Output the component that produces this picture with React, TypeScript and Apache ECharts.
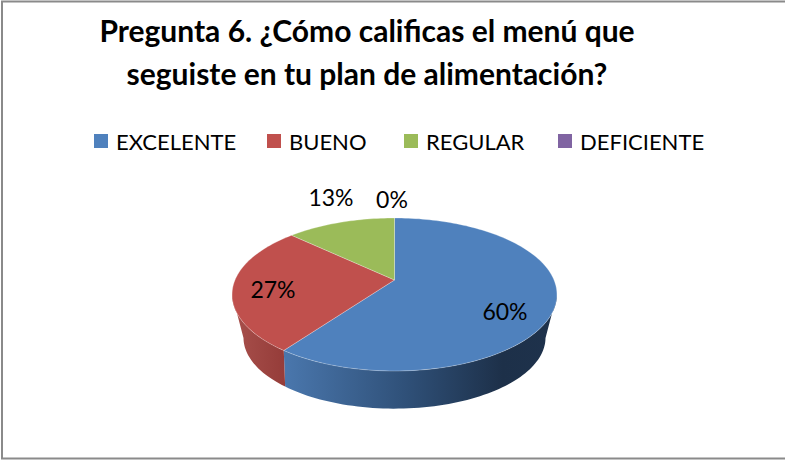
import React, { useEffect, useRef } from "react";
import * as echarts from "echarts";

const categories = ["EXCELENTE", "BUENO", "REGULAR", "DEFICIENTE"];
const percentages = [60, 27, 13, 0];
const topColors = ["#4f81bd", "#c0504d", "#9bbb59", "#8064a2"];
const wallStops = [
  [[0, "#4a77ad"], [0.45, "#2f5078"], [0.8, "#1d3049"], [1, "#1e324c"]],
  [[0, "#a8504c"], [1, "#953c39"]],
  [[0, "#7d9648"], [1, "#7d9648"]],
  [[0, "#66508a"], [1, "#66508a"]],
];
const labelAnchors = [[505, 311], [273, 289], [331, 197], [392, 199]];
const legendLefts = [89, 262, 399, 553];
const titleText = "Pregunta 6. ¿Cómo calificas el menú que\nseguiste en tu plan de alimentación?";

const FONT = "Lato";
const CX = 394.5;
const TOP_RIM = { cy: 280, rx: 159.5, ry: 73.75, k: -0.1895 };
const BOTTOM_RIM = { cy: 318.5, rx: 145.4, ry: 65.8, k: -0.27 };

function project(deg: number, rim: typeof TOP_RIM): number[] {
  const t = (deg * Math.PI) / 180;
  const X = Math.sin(t);
  const Y = -Math.cos(t);
  const w = 1 + rim.k * Y;
  return [CX + (rim.rx * X) / w, rim.cy + (rim.ry * Y) / w];
}

function arc(a: number, b: number, rim: typeof TOP_RIM): number[][] {
  const pts: number[][] = [];
  const n = Math.max(2, Math.ceil((b - a) / 1.5));
  for (let i = 0; i <= n; i++) pts.push(project(a + ((b - a) * i) / n, rim));
  return pts;
}

const total = percentages.reduce((s, v) => s + v, 0);

function renderSlice(index: number) {
  return () => {
    const value = percentages[index];
    const label = {
      type: "text",
      z2: 30,
      style: {
        x: labelAnchors[index][0],
        y: labelAnchors[index][1],
        text: value + "%",
        fill: "#000",
        font: "23px " + FONT,
        textAlign: "center",
        textVerticalAlign: "middle",
      },
    };
    if (value === 0) return { type: "group", children: [label] };
    const before = percentages.slice(0, index).reduce((s, v) => s + v, 0);
    const a = (before / total) * 360;
    const b = ((before + value) / total) * 360;
    const children: any[] = [];
    const wa = Math.max(a, 101);
    const wb = Math.min(b, 259);
    if (wb > wa) {
      const ba = Math.max(a, 106);
      const bb = Math.min(b, 254);
      children.push({
        type: "polygon",
        z2: 1,
        shape: { points: [...arc(wa, wb, TOP_RIM), ...arc(ba, bb, BOTTOM_RIM).reverse()] },
        style: {
          fill: {
            type: "linear",
            x: 0,
            y: 0,
            x2: 1,
            y2: 0,
            colorStops: wallStops[index].map(([offset, color]) => ({ offset, color })),
          },
        },
      });
    }
    children.push({
      type: "polygon",
      z2: 10,
      shape: { points: [[CX, TOP_RIM.cy], ...arc(a, b, TOP_RIM)] },
      style: { fill: topColors[index], stroke: "rgba(255,255,255,0.45)", lineWidth: 0.6 },
    });
    children.push(label);
    return { type: "group", children };
  };
}

export default function App() {
  const ref = useRef<HTMLDivElement>(null);
  useEffect(() => {
    document.body.style.margin = "0";
    const chart = echarts.init(ref.current!, null, { renderer: "svg" });
    chart.setOption({
      animation: false,
      backgroundColor: "#fff",
      title: {
        text: titleText,
        left: 362,
        top: 3,
        textAlign: "center",
        textStyle: { fontFamily: FONT, fontWeight: "bold", fontSize: 30, lineHeight: 43, color: "#000" },
      },
      legend: categories.map((name, i) => ({
        data: [name],
        left: legendLefts[i],
        top: 125,
        icon: "rect",
        itemWidth: 14,
        itemHeight: 14,
        textStyle: { fontFamily: FONT, fontSize: 22, color: "#000", padding: [0, 0, 0, 3] },
      })),
      graphic: [
        {
          type: "rect",
          shape: { x: 2, y: 1.5, width: 800, height: 457 },
          style: { fill: "none", stroke: "#8a8a8a", lineWidth: 2 },
          silent: true,
          z: -1,
        },
      ],
      series: categories.map((name, i) => ({
        type: "custom",
        name,
        coordinateSystem: "none",
        color: topColors[i],
        data: [percentages[i]],
        renderItem: renderSlice(i),
      })),
    });
    return () => chart.dispose();
  }, []);
  return <div ref={ref} style={{ width: 785, height: 460 }} />;
}
